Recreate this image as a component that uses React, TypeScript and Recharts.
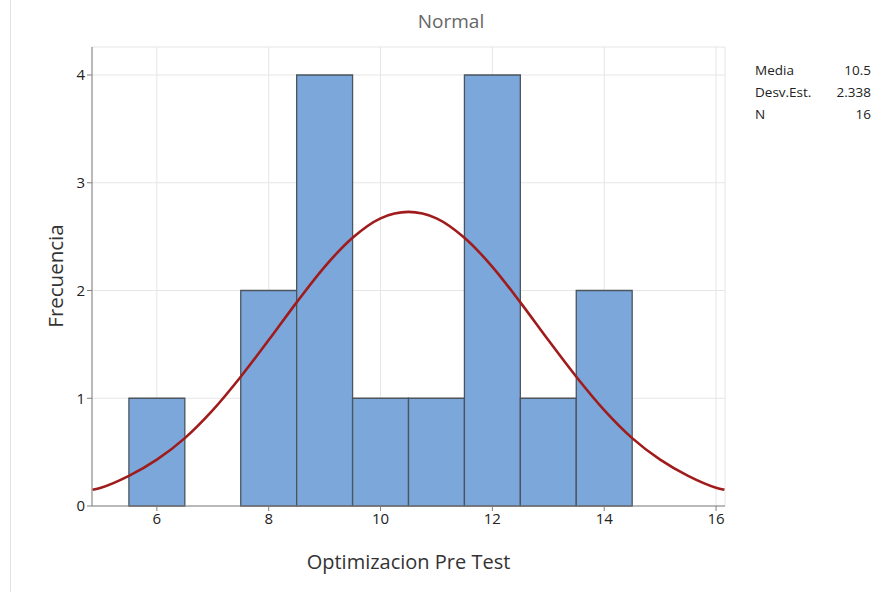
import { CartesianGrid, ComposedChart, Line, ReferenceArea, XAxis, YAxis } from 'recharts';

const binCenters = [6, 7, 8, 9, 10, 11, 12, 13, 14];
const binCounts = [1, 0, 2, 4, 1, 1, 4, 1, 2];

const curveX = [4.85, 5, 5.5, 6, 6.5, 7, 7.5, 8, 8.5, 9, 9.5, 10, 10.5, 11, 11.5, 12, 12.5, 13, 13.5, 14, 14.5, 15, 15.5, 16, 16.15];
const curveY = [0.15, 0.17, 0.28, 0.43, 0.63, 0.89, 1.2, 1.54, 1.89, 2.22, 2.49, 2.67, 2.73, 2.67, 2.49, 2.22, 1.89, 1.54, 1.2, 0.89, 0.63, 0.43, 0.28, 0.17, 0.15];

const xTicks = [6, 8, 10, 12, 14, 16];
const yTicks = [0, 1, 2, 3, 4];

const statLabels = ['Media', 'Desv.Est.', 'N'];
const statValues = ['10.5', '2.338', '16'];

const curveData = curveX.map((x, i) => ({ x, y: curveY[i] }));

const font = '"Open Sans", "Noto Sans", sans-serif';

export default function App() {
	return (
		<div style={{ position: 'absolute', left: 0, top: 0, width: 894, height: 592, background: '#fff', fontFamily: font }}>
			<div style={{ position: 'absolute', left: 10, top: 0, width: 1, height: 592, background: '#e2e2e2' }} />
			<ComposedChart width={894} height={592} data={curveData} margin={{ top: 47, right: 169, bottom: 56, left: 0 }}>
				<CartesianGrid stroke="#e6e6e6" strokeWidth={1} />
				<XAxis
					dataKey="x"
					type="number"
					domain={[4.84, 16.16]}
					ticks={xTicks}
					allowDataOverflow
					height={30}
					tickSize={5}
					stroke="#808080"
					tick={{ fill: '#222', fontSize: 15, fontFamily: font }}
				/>
				<XAxis xAxisId="top" orientation="top" type="number" domain={[4.84, 16.16]} tick={false} tickLine={false} height={0} stroke="#808080" />
				<YAxis
					type="number"
					domain={[0, 4.26]}
					ticks={yTicks}
					allowDataOverflow
					width={92}
					tickSize={5}
					stroke="#808080"
					tick={{ fill: '#222', fontSize: 15, fontFamily: font }}
				/>
				<YAxis yAxisId="right" orientation="right" type="number" domain={[0, 4.26]} tick={false} tickLine={false} width={0} stroke="#808080" />
				{binCenters.map((c, i) =>
					binCounts[i] > 0 ? (
						<ReferenceArea
							key={c}
							x1={c - 0.5}
							x2={c + 0.5}
							y1={0}
							y2={binCounts[i]}
							fill="#7ba7da"
							fillOpacity={1}
							stroke="#4c545e"
							strokeWidth={1.3}
						/>
					) : null
				)}
				<Line type="monotone" dataKey="y" stroke="#a01c1c" strokeWidth={2.6} dot={false} isAnimationActive={false} />
			</ComposedChart>
			<div style={{ position: 'absolute', left: 0, width: 902, top: 8, textAlign: 'center', fontSize: 19, color: '#666' }}>Normal</div>
			<div style={{ position: 'absolute', left: 92, width: 633, top: 548, textAlign: 'center', fontSize: 20, color: '#333' }}>Optimizacion Pre Test</div>
			<div
				style={{
					position: 'absolute',
					left: 55,
					top: 276,
					transform: 'translate(-50%, -50%) rotate(-90deg)',
					fontSize: 20.5,
					color: '#333',
					whiteSpace: 'nowrap',
				}}
			>
				Frecuencia
			</div>
			<div style={{ position: 'absolute', left: 755, top: 59, width: 116, fontSize: 13.5, color: '#222', lineHeight: '22px' }}>
				{statLabels.map((l, i) => (
					<div key={l} style={{ display: 'flex', justifyContent: 'space-between' }}>
						<span>{l}</span>
						<span>{statValues[i]}</span>
					</div>
				))}
			</div>
		</div>
	);
}
